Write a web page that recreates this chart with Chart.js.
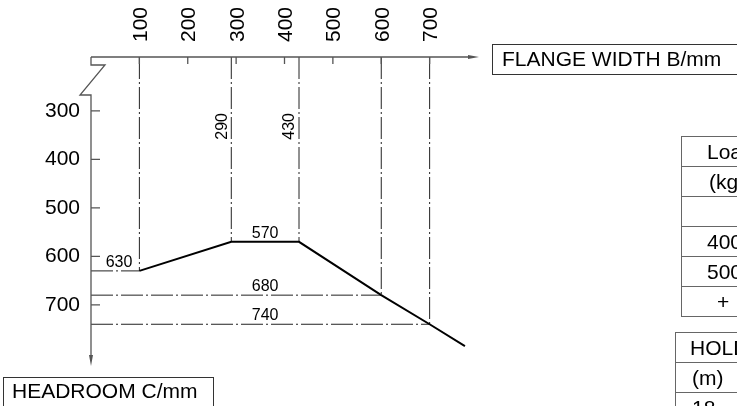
<!DOCTYPE html>
<html>
<head>
<meta charset="utf-8">
<script src="https://cdn.jsdelivr.net/npm/chart.js@4.4.1/dist/chart.umd.min.js"></script>
<style>
  html, body { margin: 0; padding: 0; background: #fff; }
  #wrap { width: 737px; height: 406px; position: relative; }
</style>
</head>
<body>
<div id="wrap"><canvas id="chart"></canvas></div>
<script>
// flange width B (x, top axis) and headroom C (y, downwards)
const widthTicks = [100, 200, 300, 400, 500, 600, 700];
const headroomTicks = [300, 400, 500, 600, 700];

// the headroom curve
const flangeWidth = [100, 290, 430, 600, 700, 773];
const headroom = [630, 570, 570, 680, 740, 785];

// curve points that get dash-dot leaders
const verticalLeaders = [0, 1, 2, 3, 4];
const horizontalLeaders = [0, 3, 4];

// dimension texts
const dimTexts = ['630', '570', '680', '740'];
const dimWidths = ['290', '430'];

// right hand tables (cut off by the picture edge)
const loadRows = ['Load', '(kg)', '', '4000', '5000', '+'];
const holdRows = ['HOLD', '(m)', '18'];

const X_MIN = 0, X_MAX = 800;
const Y_MIN = 189, Y_MAX = 824;
const FONT = '"Liberation Sans", Arial, sans-serif';

const datasets = [{
  data: flangeWidth.map((b, i) => ({ x: b, y: headroom[i] })),
  borderColor: '#000',
  borderWidth: 2,
  showLine: true,
  pointRadius: 0
}];
const leaderStyle = { borderColor: '#222', borderWidth: 1, borderDash: [22, 3, 2, 3], showLine: true, pointRadius: 0 };
verticalLeaders.forEach(i => {
  datasets.push(Object.assign({ data: [{ x: flangeWidth[i], y: Y_MIN }, { x: flangeWidth[i], y: headroom[i] }] }, leaderStyle));
});
horizontalLeaders.forEach(i => {
  datasets.push(Object.assign({ data: [{ x: X_MIN, y: headroom[i] }, { x: flangeWidth[i], y: headroom[i] }] }, leaderStyle));
});

const drawing = {
  id: 'drawing',
  afterDatasetsDraw(chart) {
    const { ctx, scales: { x, y } } = chart;
    const x0 = x.getPixelForValue(X_MIN);
    const top = y.top, bottom = y.bottom, right = x.right;
    ctx.save();

    // axes
    ctx.strokeStyle = '#555';
    ctx.fillStyle = '#555';
    ctx.lineWidth = 1.3;
    ctx.beginPath();
    ctx.moveTo(x0, top);
    ctx.lineTo(right - 8, top);
    ctx.moveTo(x0, top);
    ctx.lineTo(x0, top + 8);
    ctx.lineTo(x0 + 14, top + 8);
    ctx.lineTo(x0 - 11, top + 38);
    ctx.lineTo(x0, top + 38);
    ctx.lineTo(x0, bottom - 8);
    widthTicks.forEach(v => {
      const px = x.getPixelForValue(v);
      ctx.moveTo(px, top);
      ctx.lineTo(px, top + 7);
    });
    headroomTicks.forEach(v => {
      const py = y.getPixelForValue(v);
      ctx.moveTo(x0, py);
      ctx.lineTo(x0 + 9, py);
    });
    ctx.stroke();
    ctx.beginPath();
    ctx.moveTo(right + 1, top);
    ctx.lineTo(right - 10, top - 2);
    ctx.lineTo(right - 10, top + 2);
    ctx.closePath();
    ctx.moveTo(x0, bottom + 1);
    ctx.lineTo(x0 - 2, bottom - 10);
    ctx.lineTo(x0 + 2, bottom - 10);
    ctx.closePath();
    ctx.fill();

    // dimension texts
    ctx.fillStyle = '#000';
    ctx.font = '16px ' + FONT;
    ctx.textAlign = 'center';
    ctx.textBaseline = 'alphabetic';
    const mid = (flangeWidth[1] + flangeWidth[2]) / 2;
    const textX = [58, mid, mid, mid];
    const textY = [headroom[0], headroom[1], headroom[3], headroom[4]];
    dimTexts.forEach((t, i) => {
      ctx.fillText(t, x.getPixelForValue(textX[i]), y.getPixelForValue(textY[i]) - 4);
    });
    dimWidths.forEach((t, i) => {
      ctx.save();
      ctx.translate(x.getPixelForValue(flangeWidth[i + 1]) - 10, y.getPixelForValue(332));
      ctx.rotate(-Math.PI / 2);
      ctx.textBaseline = 'middle';
      ctx.fillText(t, 0, 1);
      ctx.restore();
    });

    // axis title boxes
    ctx.font = '21px ' + FONT;
    ctx.textAlign = 'left';
    ctx.strokeStyle = '#333';
    ctx.lineWidth = 1;
    ctx.strokeRect(right + 14.5, top - 12.5, 260, 30);
    ctx.fillText('FLANGE WIDTH B/mm', right + 24, top + 9);
    ctx.strokeRect(3.5, bottom + 12.5, 210, 40);
    ctx.fillText('HEADROOM C/mm', 12, bottom + 33);

    // tables
    ctx.font = '21px ' + FONT;
    ctx.strokeStyle = '#666';
    const loadX = [707, 709, 707, 707, 707, 717];
    loadRows.forEach((t, i) => {
      const rt = 136 + i * 30;
      ctx.strokeRect(681.5, rt + 0.5, 100, 30);
      ctx.fillText(t, loadX[i], rt + 23);
    });
    const holdX = [690, 692, 692];
    holdRows.forEach((t, i) => {
      const rt = 332 + i * 30;
      ctx.strokeRect(675.5, rt + 0.5, 100, 30);
      ctx.fillText(t, holdX[i], rt + 23);
    });
    ctx.restore();
  }
};

new Chart(document.getElementById('chart'), {
  type: 'scatter',
  data: { datasets },
  options: {
    responsive: true,
    maintainAspectRatio: false,
    animation: false,
    layout: { padding: { top: 0, left: 0, right: 259, bottom: 41 } },
    plugins: { legend: { display: false }, tooltip: { enabled: false } },
    scales: {
      x: {
        type: 'linear',
        position: 'top',
        min: X_MIN,
        max: X_MAX,
        afterBuildTicks: s => { s.ticks = widthTicks.map(v => ({ value: v })); },
        afterFit: s => { s.height = 57; },
        grid: { display: false, drawTicks: false },
        border: { display: false },
        ticks: {
          minRotation: 90, maxRotation: 90, autoSkip: false, padding: 15, labelOffset: 27,
          color: '#000', font: { family: FONT, size: 21 }
        }
      },
      y: {
        type: 'linear',
        position: 'left',
        reverse: true,
        min: Y_MIN,
        max: Y_MAX,
        afterBuildTicks: s => { s.ticks = headroomTicks.map(v => ({ value: v })); },
        afterFit: s => { s.width = 91; },
        grid: { display: false, drawTicks: false },
        border: { display: false },
        ticks: { padding: 11, color: '#000', font: { family: FONT, size: 21 } }
      }
    }
  },
  plugins: [drawing]
});
</script>
</body>
</html>
